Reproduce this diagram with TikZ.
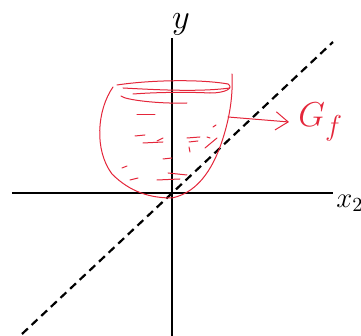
\documentclass[tikz,border=0pt]{standalone}
\usepackage{amsmath}
\usepackage{tikz}
\usepackage{xcolor}
\usetikzlibrary{arrows.meta, positioning, calc}
\definecolor{cRed}{RGB}{228,38,58}
\tikzset{
	axis/.style   ={line width=1pt, black},
	diag/.style   ={line width=1.1pt, black, dash pattern=on 4pt off 2.6pt},
	sketch/.style ={cRed, line width=0.5pt, line cap=round, line join=round},
	sigarrow/.style={sketch, -{Straight Barb[length=2.2mm, width=3.2mm]}},
	lbl/.style    ={inner sep=0pt, font=\fontsize{17}{17}\selectfont},
}
\begin{document}
\begin{tikzpicture}[x=0.5pt, y=-0.5pt]
	\useasboundingbox (0,0) rectangle (361,336);
	% axes
	\coordinate (O) at (172,193);
	\coordinate (xl) at (12,193);
	\coordinate (xr) at (333,193);
	\coordinate (yt) at (172,38);
	\coordinate (yb) at (172,340);
	\draw[axis] (xl) -- (xr);
	\draw[axis] (yb) -- (yt);
	\node[lbl, anchor=south] (ylab) at (181,36) {$y$};
	\node[lbl, anchor=west, font=\fontsize{14}{14}\selectfont] (xlab) at (336,203) {$x_2$};
	% diagonal
	\coordinate (dA) at (22,334);
	\coordinate (dB) at (333,42);
	\draw[diag] (dA) -- (dB);
	% the set drawn by hand
	\draw[sketch] (113,87) .. controls (97,110) and (94,150) .. (112,174)
		.. controls (130,192) and (150,198) .. (172,198)
		.. controls (200,192) and (215,165) .. (224,135)
		.. controls (230,115) and (233,95) .. (232,74);
	\draw[sketch] (117,85) .. controls (150,80) and (200,79) .. (228,84);
	\draw[sketch] (123,88) .. controls (160,90) and (200,92) .. (230,88);
	\draw[sketch] (228,84) .. controls (234,88) and (226,93) .. (210,93);
	\draw[sketch] (133,94) .. controls (160,92) and (190,92) .. (210,93);
	\draw[sketch] (121,96) .. controls (125,100) and (160,104) .. (187,103);
	\foreach \xa/\ya/\xb/\yb in {137/115/155/115, 135/136/145/135, 143/143/163/142, 157/141/163/138,
		187/138/200/137, 189/142/198/141, 207/137/210/138, 205/148/217/138,
		213/127/216/125, 163/159/172/158, 122/168/127/166, 130/180/138/178,
		157/180/180/179, 168/173/187/175, 190/152/189/147}
		\draw[sketch] (\xa,\ya) -- (\xb,\yb);
	% label and arrow
	\coordinate (aS) at (228,117);
	\node[lbl, text=cRed, anchor=west, font=\fontsize{19}{19}\selectfont] (Gf) at (298,122) {$G_f$};
	\draw[sigarrow] (aS) -- (Gf.west -| 289,118);
\end{tikzpicture}
\end{document}
